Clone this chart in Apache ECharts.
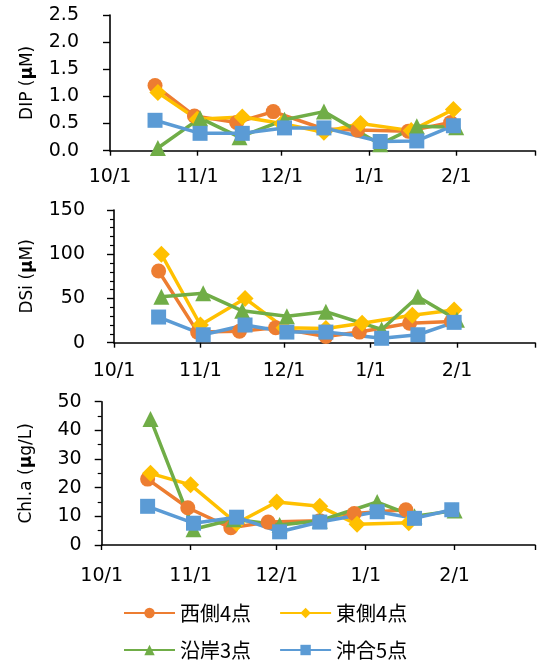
<!DOCTYPE html>
<html>
<head>
<meta charset="utf-8">
<script src="https://cdn.jsdelivr.net/npm/echarts@6/dist/echarts.min.js"></script>
<style>
  html, body { margin: 0; padding: 0; background: #fff; }
  #chart { width: 538px; height: 664px; }
</style>
</head>
<body>
<div id="chart"></div>
<script>
// Survey dates of each station group
const datesWest     = ['2018-10-17', '2018-10-31', '2018-11-15', '2018-11-28', '2018-12-16', '2018-12-28', '2019-01-15', '2019-01-30'];
const datesEast     = ['2018-10-18', '2018-11-01', '2018-11-17', '2018-12-01', '2018-12-16', '2018-12-29', '2019-01-16', '2019-01-31'];
const datesCoast    = ['2018-10-18', '2018-11-02', '2018-11-16', '2018-12-02', '2018-12-16', '2019-01-05', '2019-01-18', '2019-02-01'];
const datesOffshore = ['2018-10-17', '2018-11-02', '2018-11-17', '2018-12-02', '2018-12-16', '2019-01-05', '2019-01-18', '2019-01-31'];

const seriesNames = ['西側4点', '東側4点', '沿岸3点', '沖合5点'];

// DIP (µM)
const dipWest     = [1.20, 0.64, 0.52, 0.72, 0.40, 0.38, 0.36, 0.52];
const dipEast     = [1.07, 0.58, 0.62, 0.50, 0.34, 0.50, 0.37, 0.76];
const dipCoast    = [0.05, 0.60, 0.25, 0.57, 0.72, 0.12, 0.45, 0.43];
const dipOffshore = [0.56, 0.32, 0.32, 0.42, 0.42, 0.17, 0.18, 0.46];

// DSi (µM)
const dsiWest     = [81, 12, 13, 17, 7, 12, 22, 24];
const dsiEast     = [100, 20, 50, 17, 16, 22, 31, 37];
const dsiCoast    = [52, 56, 36, 30, 35, 15, 52, 26];
const dsiOffshore = [29, 9, 20, 12, 12, 5, 9, 23];

// Chl.a (µg/L); null = no sample
const chlWest     = [23, 13, 6, 8, 8.5, 11, 12.3, null];
const chlEast     = [25, 21, 7.6, 15, 13.5, 7.2, 7.8, null];
const chlCoast    = [44, 5.5, 9, 7, 8.5, 15, 10, 12];
const chlOffshore = [13.5, 7.6, 9.7, 4.6, 8, 11.6, 9.3, 12.3];

// Axis ranges and ticks
const axisStart = '2018-10-01';
const axisEnd = '2019-03-01';
const dipTicks = { min: 0, max: 2.5, interval: 0.5 };
const dsiTicks = { min: 0, max: 150, interval: 50 };
const chlTicks = { min: 0, max: 50, interval: 10 };

const colors = ['#ED7D31', '#FFC000', '#70AD47', '#5B9BD5'];
const symbols = ['circle', 'diamond', 'triangle', 'rect'];
const symbolSizes = [15, 17, 16, 15];

const LATIN = 'DejaVu Sans';
const CJK = '"Noto Sans CJK JP", "Noto Sans CJK SC", sans-serif';

function pairs(dates, values) {
  const out = [];
  dates.forEach((d, i) => { if (values[i] !== null) out.push([d, values[i]]); });
  return out;
}

const grids = [
  { left: 110, top: 15, width: 426, height: 135.7 },
  { left: 114, top: 210, width: 422, height: 132.7 },
  { left: 101.7, top: 401.7, width: 434.3, height: 143.3 }
];
const xLabelMargins = [17, 19, 22];

const xAxes = grids.map((g, i) => ({
  type: 'time',
  gridIndex: i,
  min: axisStart,
  max: axisEnd,
  minInterval: 28 * 86400000,
  splitNumber: 5,
  axisLine: { lineStyle: { color: '#000', width: 1.6 } },
  axisTick: { show: true, inside: false, length: 5, lineStyle: { color: '#000', width: 1.4 } },
  splitLine: { show: false },
  axisLabel: {
    color: '#000',
    fontFamily: LATIN,
    fontSize: 19,
    margin: xLabelMargins[i],
    hideOverlap: false,
    formatter: function (value) {
      const d = new Date(value);
      if (d.getMonth() === 2) return '';
      return (d.getMonth() + 1) + '/' + d.getDate();
    }
  }
}));

const yNameStyle = {
  color: '#000',
  fontFamily: LATIN,
  fontSize: 17,
  rich: { b: { fontWeight: 'bold', fontFamily: LATIN, fontSize: 17, color: '#000' } }
};

function yAxis(idx, ticks, name, nameGap, labelMargin, minorSplit, decimals) {
  return {
    type: 'value',
    gridIndex: idx,
    min: ticks.min,
    max: ticks.max,
    interval: ticks.interval,
    name: name,
    nameLocation: 'middle',
    nameRotate: 90,
    nameGap: nameGap,
    nameTextStyle: yNameStyle,
    axisLine: { show: true, lineStyle: { color: '#000', width: 1.6 } },
    axisTick: { show: true, inside: false, length: 7, lineStyle: { color: '#000', width: 1.4 } },
    minorTick: { show: minorSplit > 0, splitNumber: minorSplit || 5, length: 4, lineStyle: { color: '#000', width: 1.2 } },
    splitLine: { show: false },
    minorSplitLine: { show: false },
    axisLabel: {
      color: '#000',
      fontFamily: LATIN,
      fontSize: 19,
      margin: labelMargin,
      formatter: v => v.toFixed(decimals)
    }
  };
}

const yAxes = [
  yAxis(0, dipTicks, 'DIP ({b|μ}M)', 74, 31, 0, 1),
  yAxis(1, dsiTicks, 'DSi ({b|μ}M)', 78, 29, 5, 0),
  yAxis(2, chlTicks, 'Chl.a ({b|μ}g/L)', 67, 20, 2, 0)
];

const panelData = [
  [[datesWest, dipWest], [datesEast, dipEast], [datesCoast, dipCoast], [datesOffshore, dipOffshore]],
  [[datesWest, dsiWest], [datesEast, dsiEast], [datesCoast, dsiCoast], [datesOffshore, dsiOffshore]],
  [[datesWest, chlWest], [datesEast, chlEast], [datesCoast, chlCoast], [datesOffshore, chlOffshore]]
];

const series = [];
panelData.forEach((panel, p) => {
  panel.forEach(([dates, values], s) => {
    series.push({
      name: seriesNames[s],
      type: 'line',
      xAxisIndex: p,
      yAxisIndex: p,
      data: pairs(dates, values),
      symbol: symbols[s],
      symbolSize: symbolSizes[s],
      showAllSymbol: true,
      color: colors[s],
      lineStyle: { color: colors[s], width: 3.5 },
      itemStyle: { color: colors[s], borderWidth: 0 },
      emphasis: { disabled: true },
      animation: false
    });
  });
});

function legend(names, top) {
  return {
    data: names,
    left: 123,
    top: top,
    padding: 0,
    orient: 'horizontal',
    itemWidth: 51,
    itemHeight: 13,
    itemGap: 28,
    selectedMode: false,
    textStyle: { color: '#000', fontFamily: CJK, fontSize: 20 }
  };
}

const chart = echarts.init(document.getElementById('chart'), null, { renderer: 'canvas' });
chart.setOption({
  animation: false,
  backgroundColor: '#fff',
  grid: grids,
  xAxis: xAxes,
  yAxis: yAxes,
  legend: [legend(seriesNames.slice(0, 2), 603), legend(seriesNames.slice(2, 4), 640)],
  series: series
});
</script>
</body>
</html>
